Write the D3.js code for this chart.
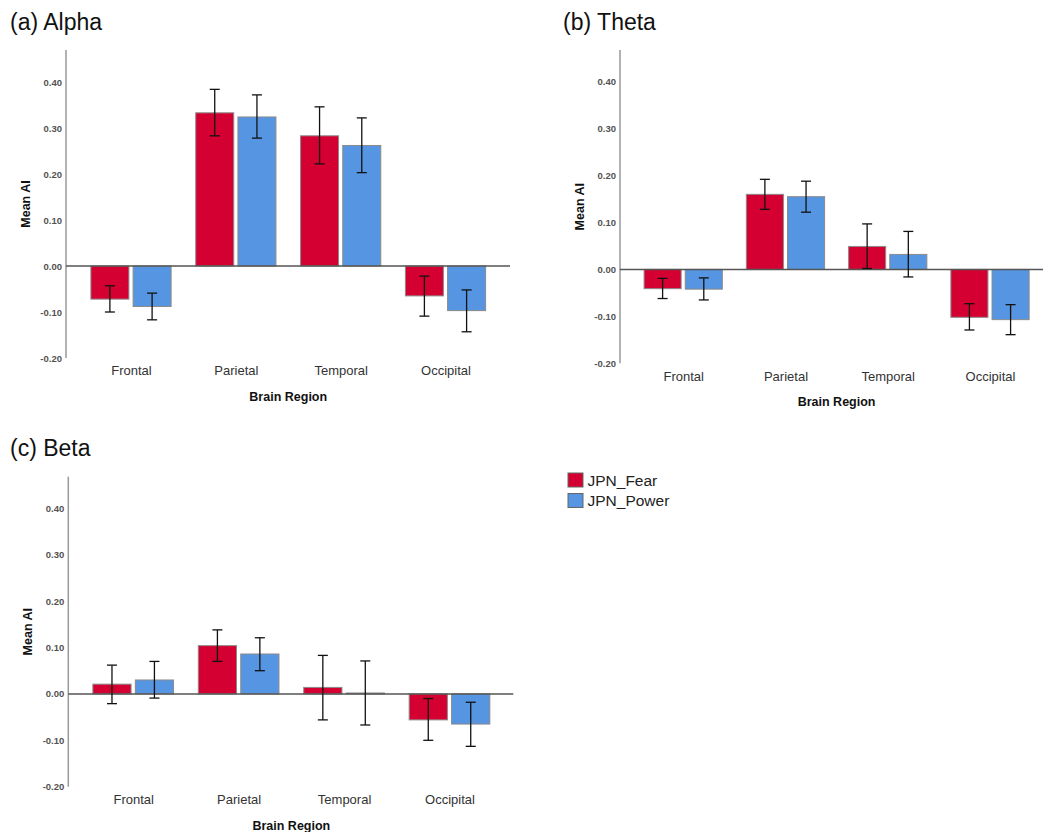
<!DOCTYPE html>
<html><head><meta charset="utf-8">
<script src="https://cdn.jsdelivr.net/npm/d3@7"></script>
<style>
body{margin:0;background:#fff;}
svg{display:block;font-family:"Liberation Sans",Arial,sans-serif;}
</style></head>
<body><svg id="chart" width="1043" height="832"></svg>
<script>
const categories = ["Frontal","Parietal","Temporal","Occipital"];
const seriesNames = ["JPN_Fear","JPN_Power"];
const tickValues = [-0.2,-0.1,0,0.1,0.2,0.3,0.4];

// Alpha
const alphaFear      = [-0.072, 0.333, 0.283, -0.065];
const alphaFearLo    = [-0.100, 0.283, 0.222, -0.109];
const alphaFearHi    = [-0.043, 0.384, 0.346, -0.022];
const alphaPower     = [-0.088, 0.324, 0.262, -0.097];
const alphaPowerLo   = [-0.117, 0.278, 0.203, -0.143];
const alphaPowerHi   = [-0.059, 0.372, 0.322, -0.052];
// Theta
const thetaFear      = [-0.041, 0.160, 0.049, -0.102];
const thetaFearLo    = [-0.062, 0.128, 0.002, -0.129];
const thetaFearHi    = [-0.019, 0.192, 0.097, -0.073];
const thetaPower     = [-0.042, 0.155, 0.032, -0.107];
const thetaPowerLo   = [-0.065, 0.122, -0.016, -0.139];
const thetaPowerHi   = [-0.018, 0.188, 0.081, -0.075];
// Beta
const betaFear       = [0.021, 0.104, 0.014, -0.056];
const betaFearLo     = [-0.021, 0.070, -0.056, -0.100];
const betaFearHi     = [0.062, 0.138, 0.083, -0.010];
const betaPower      = [0.030, 0.086, 0.002, -0.065];
const betaPowerLo    = [-0.009, 0.050, -0.067, -0.113];
const betaPowerHi    = [0.070, 0.121, 0.071, -0.018];

const colors = {"JPN_Fear":"#D40031","JPN_Power":"#5595E1"};

const panels = [
  {title:"(a) Alpha", tx:10, ty:30, axisX:66, yTop:50, y04:82, ym02:358, zeroEnd:510, c0:131, c3:445.5,
   series:[[alphaFear,alphaFearLo,alphaFearHi],[alphaPower,alphaPowerLo,alphaPowerHi]]},
  {title:"(b) Theta", tx:563, ty:30, axisX:620, yTop:50, y04:81.7, ym02:363.3, zeroEnd:1043, c0:683.2, c3:990,
   series:[[thetaFear,thetaFearLo,thetaFearHi],[thetaPower,thetaPowerLo,thetaPowerHi]]},
  {title:"(c) Beta", tx:10, ty:456, axisX:68.3, yTop:476.7, y04:508.3, ym02:786.7, zeroEnd:513.3, c0:133.2, c3:449.5,
   series:[[betaFear,betaFearLo,betaFearHi],[betaPower,betaPowerLo,betaPowerHi]]}
];

const svg = d3.select("#chart");

panels.forEach(p => {
  const g = svg.append("g");
  const y = d3.scaleLinear().domain([-0.2,0.4]).range([p.ym02,p.y04]);
  const xc = d3.scalePoint().domain(categories).range([p.c0,p.c3]);
  const step = (p.c3-p.c0)/3;
  const gw = step*0.765;
  const xs = d3.scaleBand().domain(seriesNames).range([-gw/2,gw/2]).paddingInner(0.1);

  g.append("text").attr("x",p.tx).attr("y",p.ty).attr("font-size",23).attr("fill","#111").text(p.title);

  // y axis
  const ya = g.append("g").attr("transform",`translate(${p.axisX},0)`)
    .call(d3.axisLeft(y).tickValues(tickValues).tickSize(0).tickPadding(4).tickFormat(d=>d.toFixed(2)));
  ya.select(".domain").remove();
  ya.selectAll("text").attr("font-size",9.5).attr("fill","#333").attr("font-family","\"Liberation Sans\",Arial,sans-serif").attr("font-weight","bold").attr("opacity",0.85);
  g.append("line").attr("x1",p.axisX).attr("x2",p.axisX).attr("y1",p.yTop).attr("y2",p.ym02)
    .attr("stroke","#999").attr("stroke-width",1.5);

  // bars
  seriesNames.forEach((s,si) => {
    const [vals,lo,hi] = p.series[si];
    categories.forEach((c,ci) => {
      const x0 = xc(c)+xs(s);
      const v = vals[ci];
      g.append("rect").attr("x",x0).attr("width",xs.bandwidth())
        .attr("y",Math.min(y(v),y(0))).attr("height",Math.abs(y(v)-y(0)))
        .attr("fill",colors[s]).attr("stroke","#8a8a8a").attr("stroke-width",1);
    });
  });

  // zero line
  g.append("line").attr("x1",p.axisX).attr("x2",p.zeroEnd).attr("y1",y(0)).attr("y2",y(0))
    .attr("stroke","#555").attr("stroke-width",1.5);

  // error bars
  seriesNames.forEach((s,si) => {
    const [vals,lo,hi] = p.series[si];
    categories.forEach((c,ci) => {
      const cx = xc(c)+xs(s)+xs.bandwidth()/2;
      const eb = g.append("g").attr("stroke","#111").attr("stroke-width",1.3);
      eb.append("line").attr("x1",cx).attr("x2",cx).attr("y1",y(lo[ci])).attr("y2",y(hi[ci]));
      eb.append("line").attr("x1",cx-5).attr("x2",cx+5).attr("y1",y(lo[ci])).attr("y2",y(lo[ci]));
      eb.append("line").attr("x1",cx-5).attr("x2",cx+5).attr("y1",y(hi[ci])).attr("y2",y(hi[ci]));
    });
  });

  // x axis labels
  const xa = g.append("g").attr("transform",`translate(0,${p.ym02})`)
    .call(d3.axisBottom(xc).tickSize(0).tickPadding(8));
  xa.select(".domain").remove();
  xa.selectAll("text").attr("font-size",13).attr("fill","#333").attr("font-family","\"Liberation Sans\",Arial,sans-serif");

  g.append("text").attr("x",(p.c0+p.c3)/2).attr("y",p.ym02+43).attr("text-anchor","middle")
    .attr("font-size",12.5).attr("font-weight","bold").attr("fill","#111").text("Brain Region");
  g.append("text").attr("transform",`translate(${p.axisX-36},${(p.yTop+p.ym02)/2}) rotate(-90)`)
    .attr("text-anchor","middle").attr("font-size",12.5).attr("font-weight","bold").attr("fill","#111").text("Mean AI");
});

// legend
const lg = svg.append("g").attr("transform","translate(568,473)");
seriesNames.forEach((s,i) => {
  lg.append("rect").attr("x",0).attr("y",i*20.5).attr("width",15).attr("height",14)
    .attr("fill",colors[s]).attr("stroke","#666").attr("stroke-width",1);
  lg.append("text").attr("x",19.5).attr("y",i*20.5+12.5).attr("font-size",15.5).attr("fill","#222").text(s);
});
</script></body></html>
